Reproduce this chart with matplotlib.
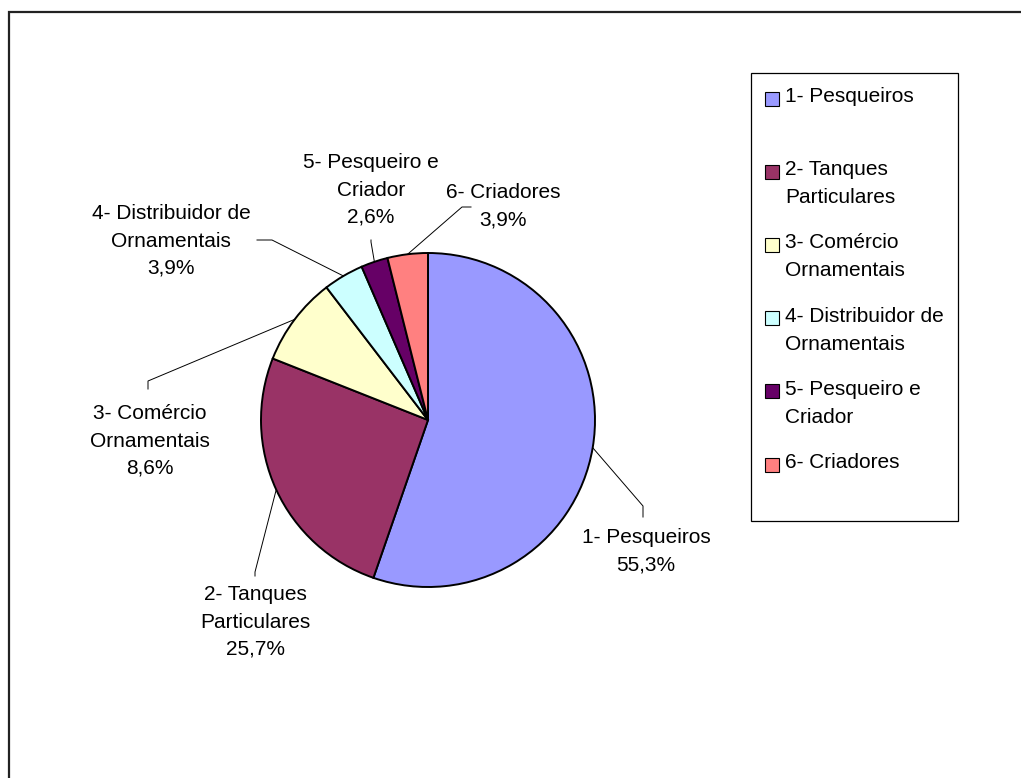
import numpy as np
import matplotlib
matplotlib.use("Agg")
import matplotlib.pyplot as plt
from matplotlib.patches import Rectangle

plt.rcParams["font.family"] = ["Liberation Sans", "DejaVu Sans"]

categorias = [
    "1- Pesqueiros",
    "2- Tanques\nParticulares",
    "3- Comércio\nOrnamentais",
    "4- Distribuidor de\nOrnamentais",
    "5- Pesqueiro e\nCriador",
    "6- Criadores",
]
percentuais = [55.3, 25.7, 8.6, 3.9, 2.6, 3.9]
cores = ["#9999FF", "#993366", "#FFFFCC", "#CCFFFF", "#660066", "#FF8080"]

W, H = 1021, 778
FS = 15
ENTRELINHA = 28  # px entre linhas de um mesmo rótulo

# posição dos rótulos (px, origem no topo) e ponto de dobra das linhas de chamada
pos_rotulos = [(646, 551), (255, 622), (150, 441), (171, 241), (371, 190), (503, 206)]
dobras = [[(643, 506), (643, 517)],
          [(255, 572), (255, 576)],
          [(148, 381), (148, 389)],
          [(272, 240), (257, 240)],
          [(371, 242), (371, 240)],
          [(462, 207), (471, 207)]]

cx, cy, raio = 428, 420, 167


def Y(y):
    return H - y


fig = plt.figure(figsize=(W / 100, H / 100), dpi=100)
ax = fig.add_axes([0, 0, 1, 1])
ax.axis("off")

# moldura da área do gráfico (continua além da imagem à direita e embaixo)
ax.add_patch(Rectangle((9, -50), 2000, Y(12) + 50, fill=False,
                       edgecolor="#222222", lw=1.6, clip_on=False))

wedges, _ = ax.pie(percentuais, colors=cores, startangle=90, counterclock=False,
                   center=(cx, Y(cy)), radius=raio,
                   wedgeprops=dict(edgecolor="black", linewidth=1.4))
ax.set_xlim(0, W)
ax.set_ylim(0, H)
ax.set_aspect("equal")

for w, cat, pct, (lx, ly), dob in zip(wedges, categorias, percentuais, pos_rotulos, dobras):
    ang = np.deg2rad((w.theta1 + w.theta2) / 2)
    x0 = cx + raio * np.cos(ang)
    y0 = Y(cy) + raio * np.sin(ang)
    xs = [x0] + [p[0] for p in dob]
    ys = [y0] + [Y(p[1]) for p in dob]
    ax.plot(xs, ys, color="black", lw=0.7)
    texto = f"{cat}\n{pct:.1f}%".replace(".", ",")
    ax.text(lx, Y(ly), texto, ha="center", va="center", multialignment="center",
            fontsize=FS, linespacing=1.55)

# legenda
ax.add_patch(Rectangle((751, Y(521)), 958 - 751, 521 - 73, fill=False,
                       edgecolor="black", lw=0.9))
for i, (cat, cor) in enumerate(zip(categorias, cores)):
    base = 102 + 73.2 * i
    ax.add_patch(Rectangle((765, Y(base - 3.5) - 7), 14, 14, facecolor=cor,
                           edgecolor="black", lw=0.8))
    for k, linha in enumerate(cat.split("\n")):
        ax.text(785, Y(base + k * ENTRELINHA), linha, ha="left", va="baseline",
                fontsize=FS)

fig.savefig("out.png", dpi=100, facecolor="white")
